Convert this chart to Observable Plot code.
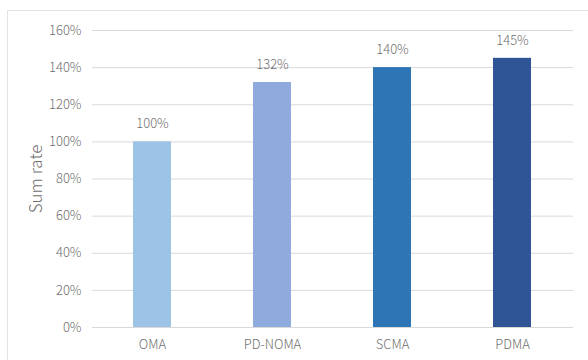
<!DOCTYPE html>
<html>
<head>
<meta charset="utf-8">
<script src="https://cdn.jsdelivr.net/npm/d3@7"></script>
<script src="https://cdn.jsdelivr.net/npm/@observablehq/plot@0.6"></script>
<style>
  html, body { margin: 0; padding: 0; background: #fff; }
  #wrap { position: relative; width: 588px; height: 360px; overflow: hidden; }
  #border { position: absolute; left: 7px; top: 10px; width: 600px; height: 400px;
            border: 1.5px solid #e3e3e3; box-sizing: border-box; }
  #chart { position: absolute; left: 0; top: 0; }
  svg text { fill: #6f6f6f; }
</style>
</head>
<body>
<div id="wrap"><div id="border"></div><div id="chart"></div></div>
<script>
// Sum rate of each multiple-access scheme, relative to OMA
const schemes = ["OMA", "PD-NOMA", "SCMA", "PDMA"];
const sumRates = [1.00, 1.32, 1.40, 1.45];
const barColors = ["#9DC3E6", "#8FAADC", "#2E75B6", "#2F5597"];
const yTicks = [0, 0.2, 0.4, 0.6, 0.8, 1.0, 1.2, 1.4, 1.6];

const rows = schemes.map((s, i) => ({scheme: s, rate: sumRates[i]}));
const pct = d3.format(".0%");

const chart = Plot.plot({
  width: 588,
  height: 360,
  marginLeft: 92,
  marginRight: 15,
  marginTop: 30,
  marginBottom: 33,
  style: {fontFamily: "'Noto Sans CJK SC', sans-serif", fontWeight: 300, fontSize: "12px", color: "#6f6f6f", background: "transparent"},
  x: {domain: schemes, paddingInner: 0.68, paddingOuter: 0.34, label: null},
  y: {domain: [0, 1.6], label: null},
  color: {domain: schemes, range: barColors},
  marks: [
    Plot.gridY(yTicks, {stroke: "#d9d9d9", strokeOpacity: 1, strokeWidth: 1}),
    Plot.axisY(yTicks, {tickSize: 0, tickPadding: 11, tickFormat: pct, fontSize: 13, label: null}),
    // axis title only, set larger than the tick labels
    Plot.axisY([], {label: "Sum rate", labelAnchor: "center", labelOffset: 63, labelArrow: false, fontSize: 17}),
    Plot.axisX({tickSize: 0, tickPadding: 12, fontSize: 13}),
    Plot.barY(rows, {x: "scheme", y: "rate", fill: "scheme"}),
    Plot.text(rows, {x: "scheme", y: "rate", text: d => pct(d.rate), dy: -18, fontSize: 13, fill: "#6f6f6f"})
  ]
});
document.getElementById("chart").appendChild(chart);
</script>
</body>
</html>
